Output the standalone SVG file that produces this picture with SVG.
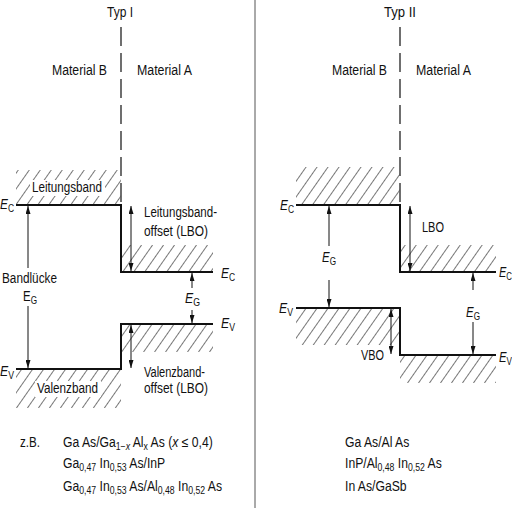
<svg xmlns="http://www.w3.org/2000/svg" width="512" height="509" viewBox="0 0 512 509">
<style>
text{font-family:"Liberation Sans",Arial,sans-serif;font-size:14px;fill:#111}
.band{fill:none;stroke:#111;stroke-width:2}
.dash{stroke:#222;stroke-width:1.3;stroke-dasharray:19 7}
.arr{stroke:#111;stroke-width:1;fill:none;marker-end:url(#ah)}
.arr2{stroke:#111;stroke-width:1;fill:none;marker-start:url(#ah);marker-end:url(#ah)}
.hat{fill:url(#hatch);stroke:none}
.it{font-style:italic}
.sub{font-size:10px}
</style>
<defs>
<pattern id="hatch" patternUnits="userSpaceOnUse" width="9" height="9" patternTransform="rotate(35)">
<line x1="4.5" y1="0" x2="4.5" y2="9" stroke="#555" stroke-width="0.8"/>
</pattern>
<marker id="ah" viewBox="0 0 8 5" refX="8" refY="2.5" markerWidth="8" markerHeight="5" markerUnits="userSpaceOnUse" orient="auto-start-reverse">
<path d="M0,0 L8,2.5 L0,5 Z" fill="#111"/>
</marker>
</defs>
<rect width="512" height="509" fill="#fff"/>
<line id="separator" x1="255" y1="0" x2="255" y2="508" stroke="#555" stroke-width="1"/>

<g id="typ1">
<text x="107" y="17" textLength="26" lengthAdjust="spacingAndGlyphs">Typ I</text>
<text x="52" y="75" textLength="55" lengthAdjust="spacingAndGlyphs">Material B</text>
<text x="137" y="75" textLength="55" lengthAdjust="spacingAndGlyphs">Material A</text>
<line class="dash" x1="121" y1="27" x2="121" y2="205"/>
<rect class="hat" x="16" y="170" width="105" height="35"/>
<rect class="hat" x="121" y="245" width="92" height="27"/>
<rect class="hat" x="121" y="324" width="92" height="28"/>
<rect class="hat" x="16" y="369" width="105" height="39"/>
<rect x="30" y="180" width="75" height="16" fill="#fff"/>
<rect x="35" y="381" width="66" height="16" fill="#fff"/>
<path class="band" d="M16 205 H121 V272 H213"/>
<path class="band" d="M16 369 H121 V324 H213"/>
<text x="32" y="192" textLength="70" lengthAdjust="spacingAndGlyphs">Leitungsband</text>
<text x="37" y="393" textLength="61" lengthAdjust="spacingAndGlyphs">Valenzband</text>
<text x="0" y="209" textLength="14" lengthAdjust="spacingAndGlyphs"><tspan class="it">E</tspan><tspan class="sub" dy="3">C</tspan></text>
<text x="221" y="278" textLength="14" lengthAdjust="spacingAndGlyphs"><tspan class="it">E</tspan><tspan class="sub" dy="3">C</tspan></text>
<text x="221" y="328" textLength="14" lengthAdjust="spacingAndGlyphs"><tspan class="it">E</tspan><tspan class="sub" dy="3">V</tspan></text>
<text x="0" y="376" textLength="14" lengthAdjust="spacingAndGlyphs"><tspan class="it">E</tspan><tspan class="sub" dy="3">V</tspan></text>
<text x="144" y="217" textLength="73" lengthAdjust="spacingAndGlyphs">Leitungsband-</text>
<text x="144" y="236" textLength="64" lengthAdjust="spacingAndGlyphs">offset (LBO)</text>
<text x="144" y="377" textLength="61" lengthAdjust="spacingAndGlyphs">Valenzband-</text>
<text x="144" y="393" textLength="64" lengthAdjust="spacingAndGlyphs">offset (LBO)</text>
<text x="2" y="283" textLength="55" lengthAdjust="spacingAndGlyphs">Bandlücke</text>
<text x="23" y="301" textLength="14" lengthAdjust="spacingAndGlyphs">E<tspan class="sub" dy="3">G</tspan></text>
<text x="185" y="303" textLength="15" lengthAdjust="spacingAndGlyphs"><tspan class="it">E</tspan><tspan class="sub" dy="3">G</tspan></text>
</g>

<g id="typ2">
<text x="384" y="17" textLength="32" lengthAdjust="spacingAndGlyphs">Typ II</text>
<text x="332" y="75" textLength="55" lengthAdjust="spacingAndGlyphs">Material B</text>
<text x="416" y="75" textLength="55" lengthAdjust="spacingAndGlyphs">Material A</text>
<line class="dash" x1="400" y1="27" x2="400" y2="205"/>
<rect class="hat" x="296" y="167" width="104" height="38"/>
<rect class="hat" x="400" y="245" width="96" height="27"/>
<rect class="hat" x="296" y="308" width="104" height="37"/>
<rect class="hat" x="400" y="355" width="96" height="28"/>
<path class="band" d="M296 205 H400 V272 H496"/>
<path class="band" d="M296 308 H400 V355 H496"/>
<text x="280" y="210" textLength="14" lengthAdjust="spacingAndGlyphs"><tspan class="it">E</tspan><tspan class="sub" dy="3">C</tspan></text>
<text x="279" y="313" textLength="14" lengthAdjust="spacingAndGlyphs"><tspan class="it">E</tspan><tspan class="sub" dy="3">V</tspan></text>
<text x="499" y="277" textLength="13" lengthAdjust="spacingAndGlyphs"><tspan class="it">E</tspan><tspan class="sub" dy="3">C</tspan></text>
<text x="499" y="362" textLength="13" lengthAdjust="spacingAndGlyphs"><tspan class="it">E</tspan><tspan class="sub" dy="3">V</tspan></text>
<text x="422" y="232" textLength="22" lengthAdjust="spacingAndGlyphs">LBO</text>
<text x="361" y="360" textLength="23" lengthAdjust="spacingAndGlyphs">VBO</text>
<text x="322" y="262" textLength="14" lengthAdjust="spacingAndGlyphs"><tspan class="it">E</tspan><tspan class="sub" dy="3">G</tspan></text>
<text x="466" y="317" textLength="14" lengthAdjust="spacingAndGlyphs"><tspan class="it">E</tspan><tspan class="sub" dy="3">G</tspan></text>
</g>

<g id="connectors">
<line class="arr" x1="28" y1="268" x2="28" y2="206"/>
<line class="arr" x1="28" y1="306" x2="28" y2="368"/>
<line class="arr2" x1="131" y1="206" x2="131" y2="271"/>
<line class="arr" x1="192" y1="288" x2="192" y2="273"/>
<line class="arr" x1="192" y1="310" x2="192" y2="323"/>
<line class="arr2" x1="131" y1="325" x2="131" y2="368"/>
<line class="arr" x1="329" y1="246" x2="329" y2="206"/>
<line class="arr" x1="329" y1="280" x2="329" y2="307"/>
<line class="arr2" x1="410" y1="206" x2="410" y2="271"/>
<line class="arr" x1="473" y1="290" x2="473" y2="273"/>
<line class="arr" x1="473" y1="322" x2="473" y2="354"/>
<line class="arr2" x1="391" y1="309" x2="391" y2="354"/>
</g>

<g id="examples1">
<text x="20" y="447" textLength="20" lengthAdjust="spacingAndGlyphs">z.B.</text>
<g transform="translate(63 0) scale(0.87 1)">
<text x="0" y="447">Ga As/Ga<tspan class="sub" dy="3">1−<tspan class="it">x</tspan></tspan><tspan dy="-3"> Al</tspan><tspan class="sub" dy="3">x</tspan><tspan dy="-3"> As (</tspan><tspan class="it">x</tspan> ≤ 0,4)</text>
<text x="0" y="468">Ga<tspan class="sub" dy="3">0,47</tspan><tspan dy="-3"> In</tspan><tspan class="sub" dy="3">0,53</tspan><tspan dy="-3"> As/InP</tspan></text>
<text x="0" y="491">Ga<tspan class="sub" dy="3">0,47</tspan><tspan dy="-3"> In</tspan><tspan class="sub" dy="3">0,53</tspan><tspan dy="-3"> As/Al</tspan><tspan class="sub" dy="3">0,48</tspan><tspan dy="-3"> In</tspan><tspan class="sub" dy="3">0,52</tspan><tspan dy="-3"> As</tspan></text>
</g>
</g>
<g id="examples2">
<g transform="translate(345 0) scale(0.87 1)">
<text x="0" y="447">Ga As/Al As</text>
<text x="0" y="468">InP/Al<tspan class="sub" dy="3">0,48</tspan><tspan dy="-3"> In</tspan><tspan class="sub" dy="3">0,52</tspan><tspan dy="-3"> As</tspan></text>
<text x="0" y="491">In As/GaSb</text>
</g>
</g>
</svg>
